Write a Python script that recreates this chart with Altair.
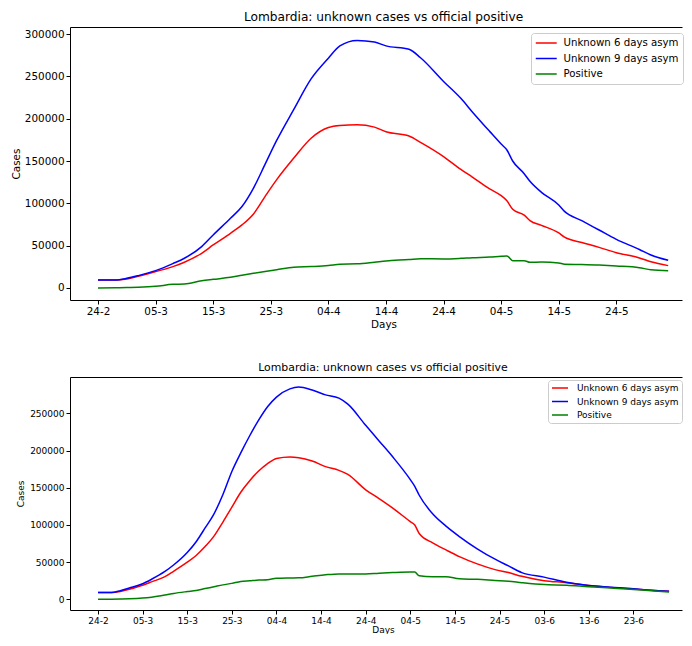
import altair as alt
import pandas as pd

# ---------------- data ----------------
series_names = ["Unknown 6 days asym", "Unknown 9 days asym", "Positive"]
series_colors = ["#ff0000", "#0000ff", "#008000"]

# top panel: days since 24-2
days_top = [0, 3, 5, 7, 10, 13, 15, 18, 20, 23, 25, 27, 29, 31, 34, 37, 40, 42, 45, 48,
            50, 54, 56, 60, 63, 65, 68, 70, 71, 72, 74, 75, 77, 80, 81, 84, 87, 90, 94, 96, 99]
red_top = [9500, 9500, 10600, 13800, 19300, 25200, 30400, 41000, 50800, 64600,
           74500, 87500, 108000, 127700, 153500, 176900, 189500, 191900, 192700, 190000,
           184500, 179500, 172000, 155200, 140000, 131000, 117000, 109000, 103000, 93000,
           86000, 79600, 74000, 65000, 60000, 53800, 48000, 41700, 35500, 31000, 26400]
blue_top = [9500, 9500, 11400, 14600, 20500, 28800, 35100, 48900, 62600, 82400,
            96200, 118000, 146000, 174000, 211000, 247000, 271500, 286000, 292500, 290500,
            286000, 282000, 272000, 244000, 224000, 208000, 185000, 170000, 163000, 150000,
            135000, 126000, 113000, 98000, 90500, 79500, 68500, 57500, 45500, 39000, 32700]
green_top = [0, 200, 500, 800, 1900, 4300, 4700, 8500, 10200, 12600,
             15000, 17300, 19500, 21500, 24500, 25300, 26500, 28000, 28500, 30500,
             32000, 33500, 34500, 34300, 35000, 35800, 36500, 37500, 37800, 32300,
             32300, 30400, 30600, 29600, 28000, 27600, 27000, 26000, 24000, 21500, 20500]

# bottom panel
days_bot = [0, 3, 5, 7, 10, 12, 15, 17, 20, 22, 24, 26, 28, 30, 32, 34, 36, 38, 40, 43,
            45, 48, 51, 54, 56, 60, 63, 66, 70, 71, 72, 75, 78, 81, 85, 89, 92, 95, 100, 105,
            110, 115, 120, 124, 128]
red_bot = [9100, 9100, 10500, 13600, 19000, 23500, 30500, 38000, 50000, 59000,
           71000, 85000, 104000, 124000, 144000, 159500, 172500, 182500, 189500, 191500,
           190500, 186000, 178500, 173500, 168000, 147300, 135500, 123000, 104500, 100000,
           88500, 76000, 66500, 57500, 47700, 40000, 36000, 31000, 25100, 22500,
           18600, 16000, 13900, 12100, 10800]
blue_bot = [9100, 9100, 11700, 15200, 21000, 27000, 37500, 46500, 63000, 77500,
            96000, 115000, 141000, 172000, 197000, 220000, 241000, 259000, 272000, 283000,
            285600, 281500, 275000, 270500, 262500, 234000, 213000, 192000, 161000, 152000,
            140000, 115000, 98500, 84500, 68000, 54000, 45000, 36000, 29900, 23000,
            18600, 16400, 14300, 12100, 10800]
green_bot = [0, 200, 400, 700, 1700, 3000, 5800, 8000, 10500, 12000,
             14500, 17000, 19500, 21500, 24000, 25000, 26000, 26500, 28300, 28800,
             29000, 31000, 33000, 34200, 34200, 34000, 35100, 36000, 36800, 36800,
             31600, 30300, 30300, 27700, 26900, 25500, 24500, 22500, 19900, 19100,
             16900, 15200, 13400, 11500, 10000]

tick_labels_top = ["24-2", "05-3", "15-3", "25-3", "04-4", "14-4", "24-4", "04-5", "14-5", "24-5"]
tick_labels_bot = tick_labels_top + ["03-6", "13-6", "23-6"]
y_ticks_top = [0, 50000, 100000, 150000, 200000, 250000, 300000]
y_ticks_bot = [0, 50000, 100000, 150000, 200000, 250000]

TITLE = "Lombardia: unknown cases vs official positive"
FONT = "DejaVu Sans"
PLOT_W = 612


def long_df(days, red, blue, green):
    rows = []
    for name, vals in zip(series_names, [red, blue, green]):
        for d, v in zip(days, vals):
            rows.append({"day": d, "value": v, "series": name})
    return pd.DataFrame(rows)


def panel(df, labels, xdom, ydom, yticks, height, fs_title, fs, title_dx, title_off,
          ext, ytitle_pad, xtitle_pad, xtitle_x,
          legend_x, legend_y, leg_fs, leg_pad, sym_size, leg_off, leg_row_pad):
    label_expr = "[" + ",".join("'%s'" % l for l in labels) + "][round(datum.value/10)]"
    xticks = [10 * i for i in range(len(labels))]
    common = dict(grid=False, tickSize=4, labelPadding=2,
                  labelFontSize=fs, titleFontSize=fs,
                  labelFont=FONT, titleFont=FONT, titleFontWeight="normal",
                  domainColor="black", tickColor="black",
                  labelColor="black", titleColor="black")
    xscale = alt.Scale(domain=xdom, nice=False, zero=False)
    yscale = alt.Scale(domain=ydom, nice=False, zero=False)
    lines = alt.Chart(df).mark_line(strokeWidth=1.5, clip=True,
                                    interpolate="monotone").encode(
        x=alt.X("day:Q", scale=xscale,
                axis=alt.Axis(values=xticks, labelExpr=label_expr, title="Days",
                              titlePadding=xtitle_pad, titleX=xtitle_x, **common)),
        y=alt.Y("value:Q", scale=yscale,
                axis=alt.Axis(values=yticks, format="d", title="Cases",
                              titlePadding=ytitle_pad, minExtent=ext, maxExtent=ext,
                              **common)),
        color=alt.Color("series:N",
                        scale=alt.Scale(domain=series_names, range=series_colors),
                        legend=alt.Legend(title=None, orient="none",
                                          legendX=legend_x, legendY=legend_y,
                                          fillColor="white", strokeColor="#cccccc",
                                          cornerRadius=3, padding=leg_pad,
                                          symbolType="M-1,0H3",
                                          symbolSize=sym_size,
                                          symbolStrokeWidth=1.5,
                                          labelFont=FONT, labelFontSize=leg_fs,
                                          labelColor="black", labelOffset=leg_off,
                                          rowPadding=leg_row_pad, labelLimit=300)),
        order=alt.Order("series:N"),
    )
    # invisible copy that only carries the top frame line
    frame_top = alt.Chart(df).mark_line(opacity=0).encode(
        x=alt.X("day:Q", scale=xscale,
                axis=alt.Axis(orient="top", labels=False, ticks=False, title=None,
                              grid=False, domainColor="black")),
        y=alt.Y("value:Q", scale=yscale,
                axis=alt.Axis(orient="right", labels=False, ticks=False, title=None,
                              grid=False, domain=False)),
    )
    return alt.layer(lines, frame_top).resolve_axis(
        x="independent", y="independent").properties(
        width=PLOT_W, height=height,
        title=alt.TitleParams(TITLE, font=FONT, fontSize=fs_title, fontWeight="normal",
                              color="black", anchor="middle", dx=title_dx,
                              offset=title_off),
    )


top = panel(long_df(days_top, red_top, blue_top, green_top), tick_labels_top,
            [-4.86, 101.4], [-14200, 308300], y_ticks_top, 273, 12.2, 10.4, 7.5, 4,
            46, 3, 3, 313.5,
            461, 6, 10.2, 4, 110, 16.5, 3.5)
bottom = panel(long_df(days_bot, red_bot, blue_bot, green_bot), tick_labels_bot,
               [-6.28, 130.9], [-14300, 299000], y_ticks_bot, 233, 10.9, 9.0, 7, 4,
               40, 5, 0, 313,
               478, 3, 9.0, 3, 64, 16, 3.5)

chart = alt.vconcat(top, bottom, spacing=32).resolve_scale(
    color="independent").resolve_legend(color="independent").configure_view(
    stroke=None).properties(
    padding={"left": 3, "top": 2, "right": 0, "bottom": 0})

chart.save("out.html", embed_options={"renderer": "svg", "actions": False})
